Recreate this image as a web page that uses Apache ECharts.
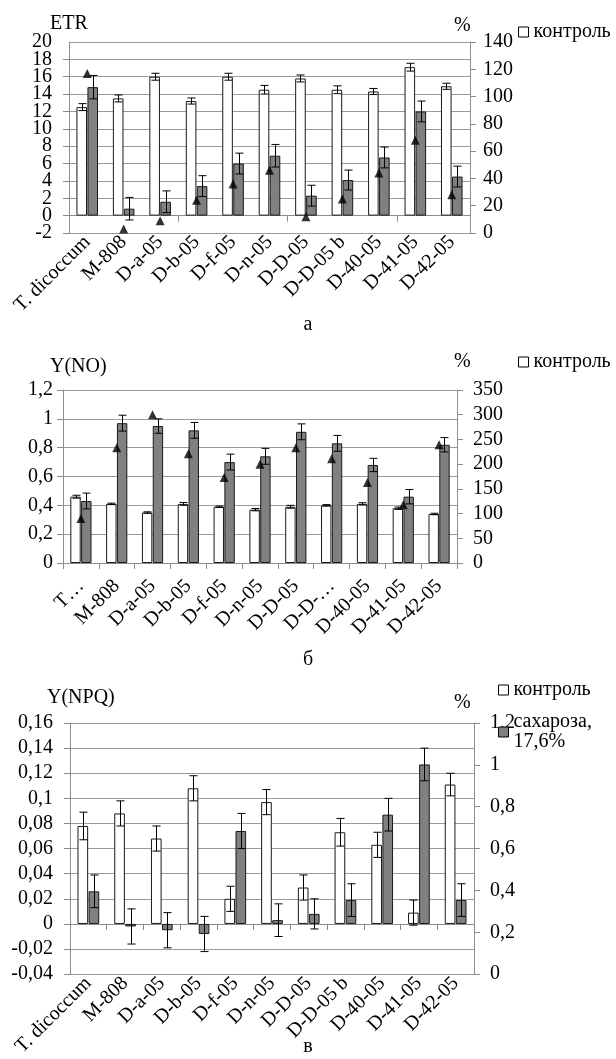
<!DOCTYPE html>
<html>
<head>
<meta charset="utf-8">
<script src="https://cdn.jsdelivr.net/npm/echarts@6/dist/echarts.min.js"></script>
<style>html,body{margin:0;background:#fff}#main{width:616px;height:1059px}</style>
</head>
<body>
<div id="main"></div>
<script>
// сорта
const categories = ['T. dicoccum','M-808','D-a-05','D-b-05','D-f-05','D-n-05','D-D-05','D-D-05 b','D-40-05','D-41-05','D-42-05'];
const labelsNO = ['T…','M-808','D-a-05','D-b-05','D-f-05','D-n-05','D-D-05','D-D-…','D-40-05','D-41-05','D-42-05'];

// а: ETR
const etrControl    = [12.5, 13.5, 16.0, 13.2, 16.0, 14.5, 15.8, 14.5, 14.3, 17.1, 14.9];
const etrControlErr = [0.4, 0.4, 0.4, 0.35, 0.4, 0.5, 0.4, 0.45, 0.35, 0.45, 0.35];
const etrSucrose    = [14.8, 0.8, 1.6, 3.4, 6.0, 6.9, 2.3, 4.1, 6.7, 12.0, 4.5];
const etrSucroseErr = [1.35, 1.3, 1.25, 1.2, 1.2, 1.3, 1.2, 1.15, 1.2, 1.2, 1.2];
const etrPct        = [117, 3, 9, 24, 36, 46, 12, 25, 44, 68, 28];

// б: Y(NO)
const noControl    = [0.46, 0.41, 0.35, 0.41, 0.39, 0.37, 0.39, 0.40, 0.41, 0.38, 0.34];
const noControlErr = [0.01, 0.005, 0.005, 0.01, 0.005, 0.008, 0.01, 0.005, 0.008, 0.008, 0.005];
const noSucrose    = [0.43, 0.97, 0.95, 0.92, 0.70, 0.74, 0.91, 0.83, 0.68, 0.46, 0.82];
const noSucroseErr = [0.055, 0.055, 0.05, 0.055, 0.055, 0.055, 0.055, 0.055, 0.046, 0.05, 0.05];
const noPct        = [90, 233, 300, 221, 173, 200, 233, 211, 163, 118, 239];

// в: Y(NPQ)
const npqControl    = [0.078, 0.088, 0.068, 0.108, 0.020, 0.097, 0.029, 0.073, 0.063, 0.009, 0.111];
const npqControlErr = [0.011, 0.010, 0.010, 0.010, 0.010, 0.010, 0.010, 0.011, 0.010, 0.010, 0.009];
const npqSucrose    = [0.026, -0.002, -0.005, -0.008, 0.074, 0.003, 0.008, 0.019, 0.087, 0.127, 0.019];
const npqSucroseErr = [0.013, 0.014, 0.014, 0.014, 0.014, 0.013, 0.012, 0.013, 0.013, 0.013, 0.013];

const CONTROL = 'контроль';
const SUCROSE = 'сахароза, 17,6%';

const BAR_W = 0.29, BAR_GAP = 0.04;
const FONT = 'Liberation Serif';
const txt = {color: '#000', fontFamily: FONT, fontSize: 20};
const axisGray = '#8c8c8c';
const comma = v => String(+(+v).toFixed(2)).replace('.', ',');

function bars(name, x, y, values, color) {
  return {
    type: 'bar', name, xAxisIndex: x, yAxisIndex: y, data: values,
    barWidth: (BAR_W * 100) + '%', barGap: (BAR_GAP * 100) + '%',
    itemStyle: {color, borderColor: '#1a1a1a', borderWidth: 1}, silent: true
  };
}

// планки погрешностей
function errors(x, y, values, errs, side) {
  return {
    type: 'custom', xAxisIndex: x, yAxisIndex: y, z: 5, silent: true,
    data: values.map((v, i) => [i, v - errs[i], v + errs[i]]),
    renderItem(params, api) {
      const i = api.value(0);
      const lo = api.coord([i, api.value(1)]);
      const hi = api.coord([i, api.value(2)]);
      const w = api.size([1, 0])[0] * BAR_W;
      const cx = Math.round(lo[0] + side * (w + w * BAR_GAP) / 2) + 0.5;
      const cap = w * 0.38;
      const style = {stroke: '#000', lineWidth: 1};
      return {type: 'group', children: [
        {type: 'line', shape: {x1: cx, y1: lo[1], x2: cx, y2: hi[1]}, style},
        {type: 'line', shape: {x1: cx - cap, y1: hi[1], x2: cx + cap, y2: hi[1]}, style},
        {type: 'line', shape: {x1: cx - cap, y1: lo[1], x2: cx + cap, y2: lo[1]}, style}
      ]};
    }
  };
}

function triangles(x, y, values) {
  return {
    type: 'scatter', xAxisIndex: x, yAxisIndex: y, z: 6, silent: true,
    symbol: 'triangle', symbolSize: [9, 9], itemStyle: {color: '#000'},
    data: values.map((v, i) => [i, v])
  };
}

function yAxisOf(grid, position, min, max, interval, margin, fmt, split) {
  return {
    gridIndex: grid, type: 'value', position, min, max, interval,
    axisLine: {show: true, onZero: false, lineStyle: {color: axisGray}},
    axisTick: {show: true, length: 6, lineStyle: {color: axisGray}},
    splitLine: {show: split, lineStyle: {color: '#9b9b9b', width: 1}},
    axisLabel: {...txt, margin, formatter: fmt, showMinLabel: true, showMaxLabel: true}
  };
}

// а: подписи слева стоят тесно, ECharts прячет соседние — делим их на две оси
const etrLeftA = yAxisOf(0, 'left', -2, 20, 2, 17, v => ((Math.round(v) + 2) % 4 === 0 ? v : ''), true);
etrLeftA.axisLabel.showMaxLabel = false;
const etrLeftB = yAxisOf(0, 'left', -2, 20, 2, 17, v => (Math.round(v) % 4 === 0 ? v : ''), false);
etrLeftB.axisLine = {show: false, onZero: false};
etrLeftB.axisTick = {show: false};
etrLeftB.axisLabel.showMinLabel = false;

const catTick = {show: true, length: 6, lineStyle: {color: axisGray}};
const catLine = {show: true, lineStyle: {color: axisGray, width: 1}};

const legendBase = {
  selectedMode: false, padding: 0, itemWidth: 10, itemHeight: 10, icon: 'rect',
  textStyle: {...txt}
};
const controlIcon = {name: CONTROL, itemStyle: {color: '#fff', borderColor: '#000', borderWidth: 1}};
const sucroseIcon = {name: SUCROSE, itemStyle: {color: '#808080', borderColor: '#000', borderWidth: 1}};

const text = (t, x, y, size, align) => ({
  type: 'text', x, y, silent: true,
  style: {text: t, fill: '#000', font: size + 'px "' + FONT + '"', align: align || 'left', verticalAlign: 'middle'}
});

const chart = echarts.init(document.getElementById('main'));
chart.setOption({
  animation: false,
  backgroundColor: '#fff',
  grid: [
    {left: 69, top: 42, width: 401, height: 191},
    {left: 63, top: 390, width: 394, height: 173},
    {left: 70, top: 723, width: 404, height: 268}
  ],
  xAxis: [
    // а: подписи внизу
    {gridIndex: 0, type: 'category', data: categories, position: 'bottom',
     axisLine: {show: false, onZero: false}, axisTick: {show: false},
     axisLabel: {...txt, rotate: 45, interval: 0, margin: 6}},
    // а: ось на нуле
    {gridIndex: 0, type: 'category', data: categories, position: 'bottom',
     axisLine: {...catLine, onZero: true}, axisTick: catTick, axisLabel: {show: false}},
    // б
    {gridIndex: 1, type: 'category', data: labelsNO, position: 'bottom',
     axisLine: catLine, axisTick: catTick,
     axisLabel: {...txt, rotate: 45, interval: 0, margin: 20}},
    // в
    {gridIndex: 2, type: 'category', data: categories, position: 'bottom',
     axisLine: {...catLine, onZero: true}, axisTick: catTick,
     axisLabel: {...txt, rotate: 45, interval: 0, margin: 6}}
  ],
  yAxis: [
    etrLeftA,
    yAxisOf(0, 'right', 0, 140, 20, 13, null, false),
    yAxisOf(1, 'left', 0, 1.2, 0.2, 10, comma, true),
    yAxisOf(1, 'right', 0, 350, 50, 16, null, false),
    yAxisOf(2, 'left', -0.04, 0.16, 0.02, 17, comma, true),
    yAxisOf(2, 'right', 0, 1.2, 0.2, 16, comma, false),
    etrLeftB
  ],
  legend: [
    {...legendBase, left: 518, top: 22, data: [controlIcon]},
    {...legendBase, left: 518, top: 352, data: [controlIcon]},
    {...legendBase, left: 498, top: 680, data: [controlIcon]},
    {...legendBase, left: 498, top: 702, data: [sucroseIcon],
     formatter: n => n.replace(' ', '\n'),
     textStyle: {...txt, lineHeight: 20, padding: [20, 0, 0, 0]}}
  ],
  graphic: [
    text('ETR', 50, 24, 20),
    text('%', 454, 26, 20),
    text('а', 308, 325, 20, 'center'),
    text('Y(NO)', 50, 367, 20),
    text('%', 454, 362, 20),
    text('б', 308, 660, 20, 'center'),
    text('Y(NPQ)', 47, 698, 20),
    text('%', 454, 703, 20),
    text('в', 308, 1047, 20, 'center')
  ],
  series: [
    bars(CONTROL, 0, 0, etrControl, '#fff'),
    bars(SUCROSE, 0, 0, etrSucrose, '#808080'),
    errors(0, 0, etrControl, etrControlErr, -1),
    errors(0, 0, etrSucrose, etrSucroseErr, 1),
    triangles(0, 1, etrPct),

    bars(CONTROL, 2, 2, noControl, '#fff'),
    bars(SUCROSE, 2, 2, noSucrose, '#808080'),
    errors(2, 2, noControl, noControlErr, -1),
    errors(2, 2, noSucrose, noSucroseErr, 1),
    triangles(2, 3, noPct),

    bars(CONTROL, 3, 4, npqControl, '#fff'),
    bars(SUCROSE, 3, 4, npqSucrose, '#808080'),
    errors(3, 4, npqControl, npqControlErr, -1),
    errors(3, 4, npqSucrose, npqSucroseErr, 1)
  ]
});
</script>
</body>
</html>
